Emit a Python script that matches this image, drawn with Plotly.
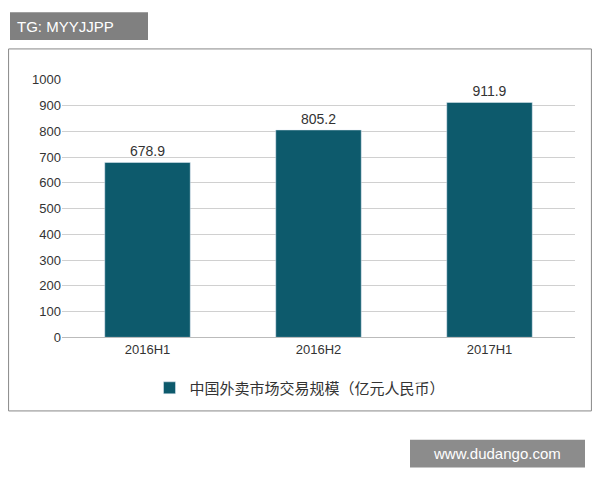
import plotly.graph_objects as go

periods = ['2016H1', '2016H2', '2017H1']
values = [678.9, 805.2, 911.9]
series_name = '中国外卖市场交易规模（亿元人民币）'

W, H, OFF = 584, 464, 8


def px(x):
    return (x - OFF) / W


def py(y):
    return 1 - ((y - 5.1) / 0.973 - OFF) / H


fig = go.Figure(data=[
    go.Bar(name=series_name, x=periods, y=values, marker_color='#0d5a6c',
           text=[f'{v:.1f}' for v in values], textposition='outside',
           textfont=dict(size=14, color='#333', family='Arial'), cliponaxis=False)
])

fig.update_layout(
    width=W, height=H, margin=dict(l=0, r=0, t=0, b=0),
    paper_bgcolor='white', plot_bgcolor='white',
    font=dict(family='Arial, Noto Sans CJK SC', size=13, color='#333'),
    bargap=0.5, showlegend=True,
    legend=dict(orientation='h', x=px(300), xanchor='center', y=py(388), yanchor='middle',
                font=dict(size=15, family='Noto Sans CJK SC')),
    xaxis=dict(domain=[px(62), px(575)], showline=True, linecolor='#bbb', ticks='',
               tickfont=dict(size=13)),
    yaxis=dict(domain=[py(337), py(78)], range=[0, 1000], dtick=100,
               gridcolor='#d0d0d0', zeroline=False, ticks='', tickfont=dict(size=13)),
    shapes=[
        dict(type='rect', xref='paper', yref='paper', x0=0.001, x1=0.999,
             y0=py(411), y1=py(47), line=dict(color='#888', width=1)),
        dict(type='rect', xref='paper', yref='paper', x0=px(10), x1=px(148),
             y0=py(38), y1=py(10), fillcolor='#808080', line=dict(width=0)),
        dict(type='rect', xref='paper', yref='paper', x0=px(410), x1=px(585),
             y0=py(468), y1=py(440), fillcolor='#8c8c8c', line=dict(width=0)),
    ],
    annotations=[
        dict(text='TG: MYYJJPP', xref='paper', yref='paper', x=px(15), y=py(24),
             xanchor='left', yanchor='middle', showarrow=False,
             font=dict(color='white', size=15, family='Arial')),
        dict(text='www.dudango.com', xref='paper', yref='paper', x=px(497), y=py(454),
             xanchor='center', yanchor='middle', showarrow=False,
             font=dict(color='white', size=15, family='Arial')),
    ],
)

fig.write_html("out.html")
